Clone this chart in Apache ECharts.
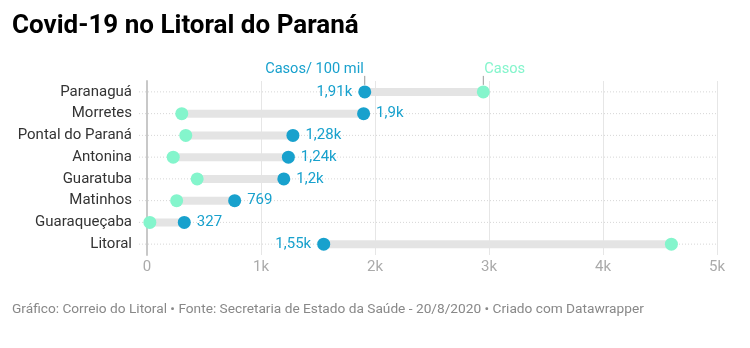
<!DOCTYPE html>
<html><head><meta charset="utf-8">
<script src="https://cdn.jsdelivr.net/npm/echarts@6/dist/echarts.min.js"></script>
<style>html,body{margin:0;padding:0;background:#fff}#c{width:750px;height:348px}</style>
</head><body><div id="c"></div>
<script>
const categories = ['Paranaguá','Morretes','Pontal do Paraná','Antonina','Guaratuba','Matinhos','Guaraqueçaba','Litoral'];
const casosPor100mil = [1910, 1900, 1280, 1240, 1200, 769, 327, 1550];
const casos = [2950, 305, 340, 230, 440, 260, 25, 4600];
const xTicks = [0, 1000, 2000, 3000, 4000, 5000];
const seriesNames = ['Casos/ 100 mil', 'Casos'];
const title = 'Covid-19 no Litoral do Paraná';
const footer = 'Gráfico: Correio do Litoral • Fonte: Secretaria de Estado da Saúde - 20/8/2020 • Criado com Datawrapper';

const BLUE = '#18a1cd', TEAL = '#84f5cc', FONT = 'Roboto';
function fmt(v){
  if (v >= 1000) return (Math.round(v/10)/100).toString().replace('.', ',') + 'k';
  return String(v);
}
const chart = echarts.init(document.getElementById('c'), null, {renderer:'canvas'});
const rangeData = categories.map((c,i)=>[Math.min(casos[i],casosPor100mil[i]), Math.max(casos[i],casosPor100mil[i]), i]);
chart.setOption({
  animation:false,
  title:[{text:title,left:12,top:13,padding:0,textStyle:{fontFamily:FONT,fontWeight:'bold',fontSize:26,color:'#000'}},
         {text:footer,left:12,top:303,padding:0,textStyle:{fontFamily:FONT,fontWeight:'normal',fontSize:13.7,color:'#888'}}],
  grid:{left:147,right:33,top:81,height:174},
  xAxis:{type:'value',min:xTicks[0],max:xTicks[xTicks.length-1],interval:1000,
    axisLine:{show:false},axisTick:{show:false},
    splitLine:{show:true,lineStyle:{color:'#e6e6e6',width:1}},
    axisLabel:{margin:5,fontFamily:FONT,fontSize:15,color:'#aaa',
      formatter:v=>v===0?'0':(v/1000)+'k'}},
  yAxis:{type:'category',data:categories,inverse:true,
    axisLine:{show:true,lineStyle:{color:'#c8c8c8',width:2}},axisTick:{show:false},
    axisLabel:{margin:15,fontFamily:FONT,fontSize:15,color:'#333'}},
  series:[
    {type:'custom',silent:true,z:1,data:rangeData,encode:{x:[0,1],y:2},
      renderItem:(params,api)=>{
        const y = api.value(2);
        const a = api.coord([api.value(0), y]);
        const b = api.coord([api.value(1), y]);
        const l = api.coord([xTicks[0], y]);
        const r = api.coord([xTicks[xTicks.length-1], y]);
        return {type:'group',children:[
          {type:'line',shape:{x1:l[0]-8,y1:l[1],x2:r[0],y2:r[1]},style:{stroke:'#d6d6d6',lineWidth:1,lineDash:[1,2]}},
          {type:'line',shape:{x1:a[0],y1:a[1],x2:b[0],y2:b[1]},style:{stroke:'#e4e4e4',lineWidth:8}}
        ]};
      }},
    {type:'custom',silent:true,z:5,
      data:[[casosPor100mil[0],0,0],[casos[0],0,1]],encode:{x:0,y:1},
      renderItem:(params,api)=>{
        const p = api.coord([api.value(0), api.value(1)]);
        const k = api.value(2);
        return {type:'group',children:[
          {type:'line',shape:{x1:p[0],y1:p[1]-16,x2:p[0],y2:p[1]-7},style:{stroke:'#999',lineWidth:1}},
          {type:'text',x:p[0]+(k===0?-1:1),y:p[1]-23,style:{text:seriesNames[k],fontFamily:FONT,fontSize:14.6,
            fill:k===0?BLUE:TEAL,align:k===0?'right':'left',verticalAlign:'middle'}}
        ]};
      }},
    {type:'scatter',name:seriesNames[1],z:3,symbolSize:13,itemStyle:{color:TEAL,opacity:1},
      data:casos.map((v,i)=>[v,i])},
    {type:'scatter',name:seriesNames[0],z:4,symbolSize:13,itemStyle:{color:BLUE,opacity:1},
      data:casosPor100mil.map((v,i)=>({value:[v,i],
        label:{show:true,position:casos[i]>v?'left':'right',distance:6,formatter:fmt(v),
          fontFamily:FONT,fontSize:15,color:BLUE}}))}
  ]
});
</script></body></html>
